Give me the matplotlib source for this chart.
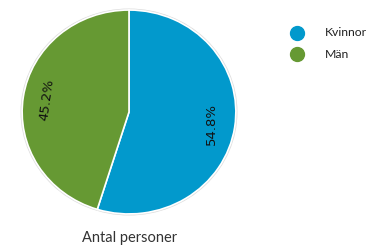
import matplotlib.pyplot as plt
from matplotlib.patches import Ellipse
from matplotlib.lines import Line2D

kategorier = ['Kvinnor', 'Män']
andelar = [54.8, 45.2]
farger = ['#0299cc', '#669933']
rotationer = [90, 82]
titel = 'Antal personer'

W, H = 385, 247
fig = plt.figure(figsize=(W / 100, H / 100), dpi=100)

# pie area in pixel coordinates
x0, x1, ytop, ybot = 20, 238, 8, 216
ax = fig.add_axes([x0 / W, 1 - ybot / H, (x1 - x0) / W, (ybot - ytop) / H])

# faint shadow ring
ax.add_patch(Ellipse((0, 0), 2.03, 2.03, facecolor='#dddddd', edgecolor='none', zorder=0))

wedges, texts = ax.pie(andelar, colors=farger, startangle=90, counterclock=False,
                       wedgeprops=dict(edgecolor='white', linewidth=1.2),
                       labels=[f'{v:.1f}%' for v in andelar], labeldistance=0.78,
                       textprops=dict(fontsize=9.5, color='#111111', family='DejaVu Sans'))
for t, r in zip(texts, rotationer):
    t.set_rotation(r)
    t.set_ha('center')
    t.set_va('center')
ax.set_aspect('auto')
ax.set_xlim(-1.02, 1.02)
ax.set_ylim(-1.02, 1.02)
ax.axis('off')

fig.text(130 / W, 1 - 238 / H, titel, ha='center', va='center', fontsize=10.5,
         color='#333333', family='Lato')

# legend
for i, (k, c) in enumerate(zip(kategorier, farger)):
    y = 1 - (33 + 21 * i) / H
    fig.add_artist(Line2D([297 / W], [y], marker='o', markersize=10, color=c,
                          linestyle='none', transform=fig.transFigure))
    fig.text(325 / W, y, k, ha='left', va='center', fontsize=8.8, color='#222222', family='Lato')

fig.savefig('out.png', dpi=100)
